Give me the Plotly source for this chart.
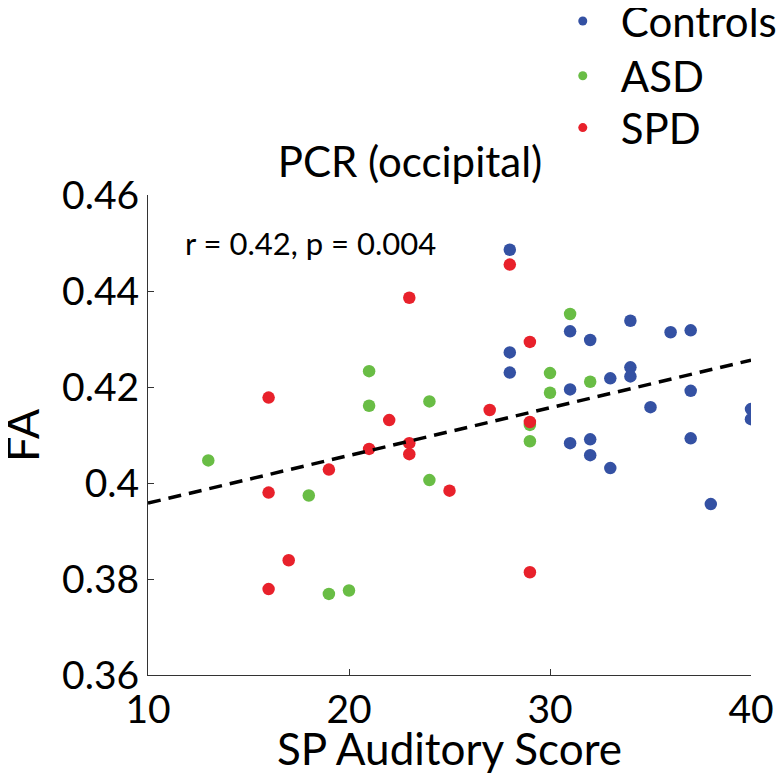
import plotly.graph_objects as go

# SP auditory score vs FA
ctrl_x = [28, 28, 28, 31, 31, 31, 32, 32, 32, 33, 33, 34, 34, 34, 35, 36, 37, 37, 37, 38, 40, 40]
ctrl_y = [0.4486, 0.4272, 0.4230, 0.4316, 0.4195, 0.4083, 0.4298, 0.4091, 0.4058, 0.4218, 0.4031,
          0.4338, 0.4241, 0.4222, 0.4158, 0.4314, 0.4318, 0.4192, 0.4093, 0.3956, 0.4154, 0.4133]

asd_x = [13, 18, 19, 20, 21, 21, 24, 24, 29, 29, 30, 30, 31, 32]
asd_y = [0.4047, 0.3974, 0.3769, 0.3776, 0.4233, 0.4161, 0.4170, 0.4006, 0.4121, 0.4087,
         0.4229, 0.4188, 0.4352, 0.4211]

spd_x = [16, 16, 16, 17, 19, 21, 22, 23, 23, 23, 25, 27, 28, 29, 29, 29]
spd_y = [0.4178, 0.3980, 0.3779, 0.3839, 0.4028, 0.4071, 0.4131, 0.4386, 0.4083, 0.4060,
         0.3984, 0.4152, 0.4455, 0.4294, 0.4127, 0.3814]

# least-squares line endpoints
fit_x = [10, 40]
fit_y = [0.3958, 0.4256]

groups = [
    ('Controls', ctrl_x, ctrl_y, '#3451a3'),
    ('ASD', asd_x, asd_y, '#69bd45'),
    ('SPD', spd_x, spd_y, '#e8212b'),
]

FONT = 'Lato'

fig = go.Figure()
for name, xs, ys, col in groups:
    fig.add_trace(go.Scatter(x=xs, y=ys, mode='markers', showlegend=False,
                             marker=dict(size=12.5, color=col)))
fig.add_trace(go.Scatter(x=fit_x, y=fit_y, mode='lines', showlegend=False,
                         line=dict(color='black', width=3.5, dash='13px,8px')))
# legend-only entries with the smaller legend dots, one legend box per entry
legend_ids = ['legend', 'legend2', 'legend3']
for (name, xs, ys, col), lg in zip(groups, legend_ids):
    fig.add_trace(go.Scatter(x=[None], y=[None], mode='markers', name=name, legend=lg,
                             marker=dict(size=9, color=col)))

axis_common = dict(showline=True, linecolor='#333333', linewidth=1, ticks='inside',
                   ticklen=6, tickcolor='#333333', showgrid=False, zeroline=False,
                   automargin=False,
                   tickfont=dict(family=FONT, size=39, color='black'))

fig.update_xaxes(range=[10, 40], tickvals=[10, 20, 30, 40], **axis_common)
fig.update_yaxes(range=[0.36, 0.46], tickvals=[0.36, 0.38, 0.40, 0.42, 0.44, 0.46],
                 ticktext=['0.36', '0.38', '0.4', '0.42', '0.44', '0.46'], **axis_common)

# axis titles as annotations so they sit where the original has them
fig.add_annotation(x=0.5, y=0, xref='paper', yref='paper', yanchor='middle', yshift=-73,
                   text='SP Auditory Score', showarrow=False,
                   font=dict(family=FONT, size=44, color='black'))
fig.add_annotation(x=0, y=0.5, xref='paper', yref='paper', xanchor='center', xshift=-126,
                   text='FA', textangle=-90, showarrow=False,
                   font=dict(family=FONT, size=45, color='black'))

fig.add_annotation(x=18.1, y=0.45, xref='x', yref='y', text='r = 0.42, p = 0.004',
                   showarrow=False, font=dict(family=FONT, size=31, color='black'))

legend_style = dict(x=0.658, xanchor='left', yanchor='middle', itemwidth=66,
                    font=dict(family=FONT, size=42, color='black'),
                    bgcolor='rgba(0,0,0,0)')

fig.update_layout(
    width=776, height=773,
    margin=dict(l=140, r=33, t=187, b=106, autoexpand=False),
    paper_bgcolor='white', plot_bgcolor='white',
    title=dict(text='PCR (occipital)', x=0.4345, xref='paper', xanchor='center',
               y=1 - 154 / 773, yref='container', yanchor='middle',
               font=dict(family=FONT, size=42, color='black')),
    legend=dict(y=1.362, **legend_style),
    legend2=dict(y=1.248, **legend_style),
    legend3=dict(y=1.140, **legend_style),
)

fig.write_html('out.html')
